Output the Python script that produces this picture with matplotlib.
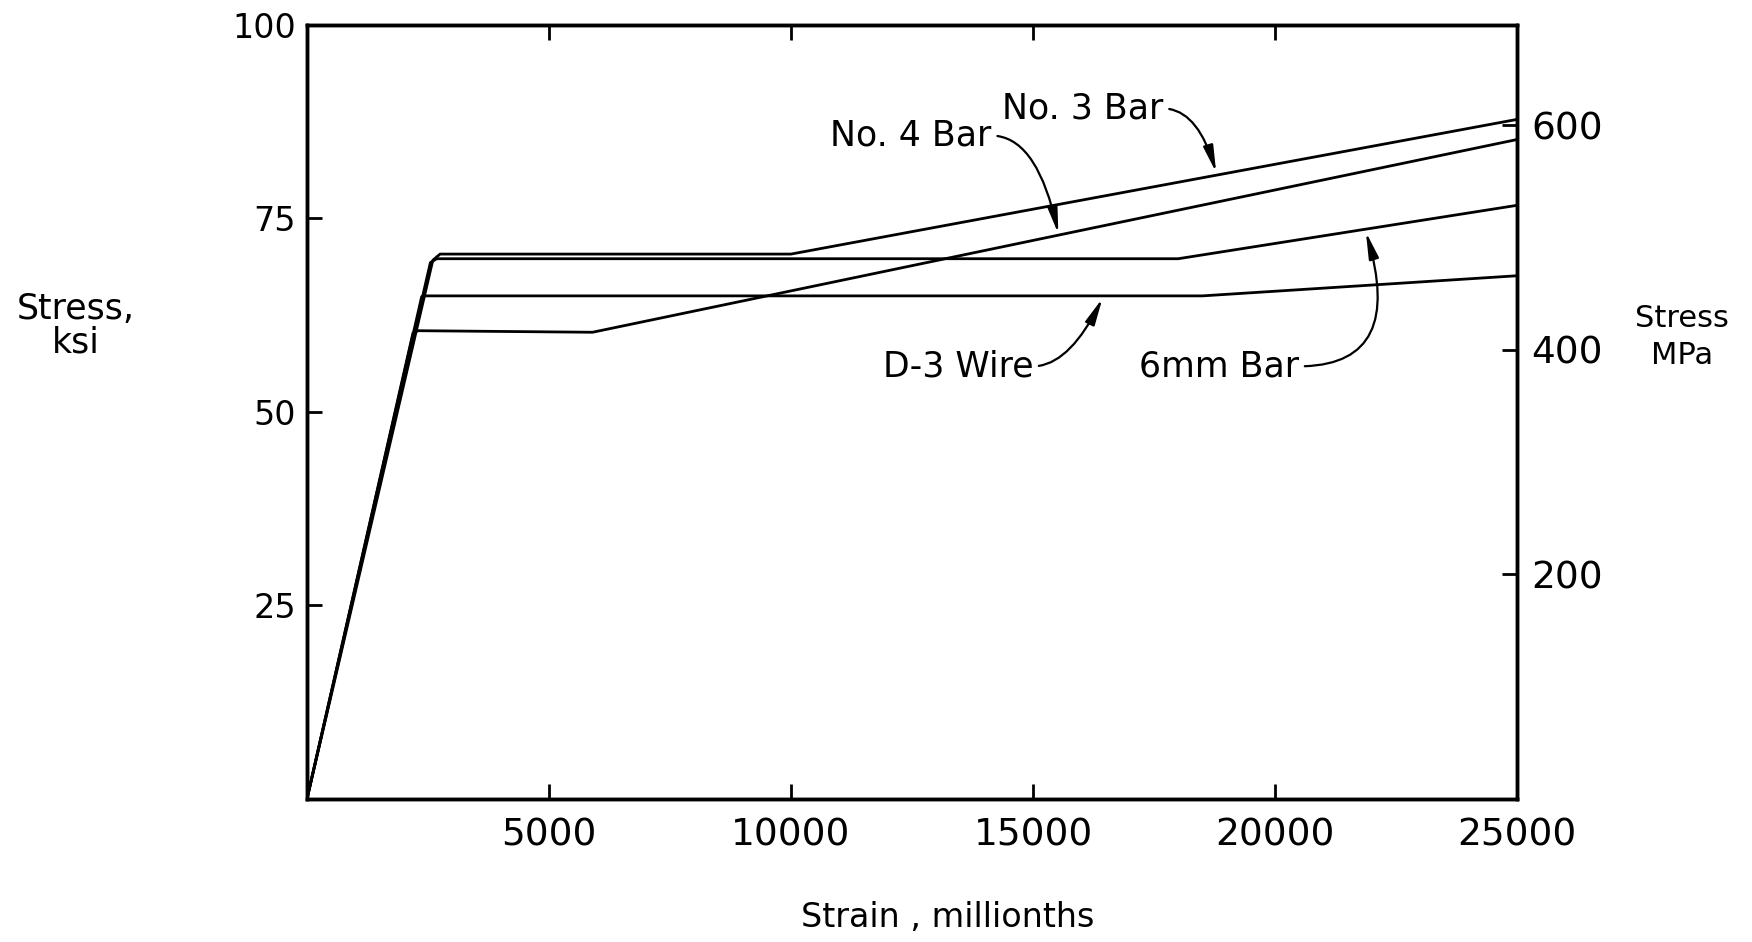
import matplotlib.pyplot as plt

# stress-strain curves (strain in millionths, stress in ksi)
strain_no3 = [0, 2600, 2750, 10000, 25000]
stress_no3 = [0, 69.6, 70.4, 70.4, 87.8]

strain_no4 = [0, 2190, 2300, 5900, 25000]
stress_no4 = [0, 60.2, 60.5, 60.3, 85.2]

strain_6mm = [0, 2550, 2680, 18000, 25000]
stress_6mm = [0, 69.3, 69.8, 69.8, 76.7]

strain_d3 = [0, 2370, 2450, 18500, 25000]
stress_d3 = [0, 64.9, 65.0, 65.0, 67.6]

x_ticks = [5000, 10000, 15000, 20000, 25000]
y_ticks = [25, 50, 75, 100]
mpa_ticks = [200, 400, 600]
KSI_TO_MPA = 6.895

plt.rcParams['font.family'] = 'DejaVu Sans'

fig = plt.figure(figsize=(17.52, 9.42), dpi=100)
ax = fig.add_axes([0.1752, 0.1518, 0.6907, 0.8217])

for xs, ys in [(strain_no3, stress_no3), (strain_no4, stress_no4),
               (strain_6mm, stress_6mm), (strain_d3, stress_d3)]:
    ax.plot(xs, ys, color='black', lw=2.0, solid_joinstyle='round')

ax.set_xlim(0, 25000)
ax.set_ylim(0, 100)
ax.set_xticks(x_ticks)
ax.set_xticklabels([str(t) for t in x_ticks])
ax.set_yticks(y_ticks)
ax.tick_params(axis='both', direction='in', length=11, width=2)
ax.tick_params(axis='x', pad=13, top=True, labelsize=27)
ax.tick_params(axis='y', pad=8, labelsize=24)
for s in ax.spines.values():
    s.set_linewidth(2.5)

# second axis in MPa
ax2 = ax.twinx()
ax2.set_ylim(0, 100 * KSI_TO_MPA)
ax2.set_yticks(mpa_ticks)
ax2.tick_params(axis='y', direction='in', length=11, width=2, labelsize=27, pad=10)
for s in ax2.spines.values():
    s.set_linewidth(2.5)

# curve labels with curved arrows
arrow = dict(arrowstyle='-|>,head_length=0.8,head_width=0.15', color='black',
             lw=1.6, relpos=(1, 0.5), mutation_scale=20)
labels = [
    ('No. 3 Bar', (17700, 89.2), (18800, 80.6), 106),
    ('No. 4 Bar', (14150, 85.7), (15535, 72.7), 102),
    ('D-3 Wire', (15005, 55.9), (16460, 65.0), 64),
    ('6mm Bar', (20500, 55.9), (21860, 73.6), 107),
]
for txt, pos, tip, angB in labels:
    ax.annotate(txt, xy=tip, xytext=pos, ha='right', va='center', fontsize=25,
                arrowprops=dict(arrow, connectionstyle='angle3,angleA=0,angleB=%d' % angB))

fig.text(0.0434, 0.654, 'Stress,\nksi', ha='center', va='center', fontsize=25,
         linespacing=1.0)
fig.text(0.960, 0.642, 'Stress\nMPa', ha='center', va='center', fontsize=22,
         linespacing=1.35)
fig.text(0.541, 0.026, 'Strain , millionths', ha='center', va='center', fontsize=24)

fig.savefig('out.png', dpi=100)
